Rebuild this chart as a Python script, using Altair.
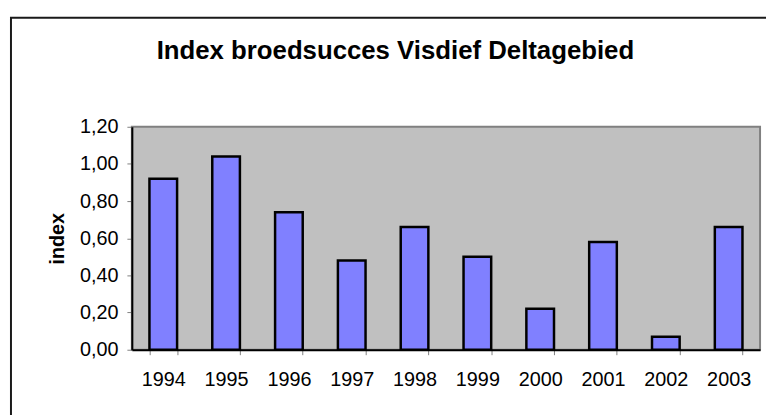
import altair as alt
import pandas as pd

years = ["1994", "1995", "1996", "1997", "1998", "1999", "2000", "2001", "2002", "2003"]
index_values = [0.92, 1.04, 0.74, 0.48, 0.66, 0.50, 0.22, 0.58, 0.07, 0.66]
y_ticks = [0.0, 0.2, 0.4, 0.6, 0.8, 1.0, 1.2]
title_text = "Index broedsucces Visdief Deltagebied"

df = pd.DataFrame({"jaar": years, "index": index_values})

FONT = "Liberation Sans"

bars = alt.Chart(df).mark_bar(
    color="#8080FF", stroke="#000000", strokeWidth=2.5
).encode(
    x=alt.X(
        "jaar:N",
        sort=years,
        title=None,
        scale=alt.Scale(paddingInner=0.56, paddingOuter=0.28),
        axis=alt.Axis(
            labelAngle=0,
            labelFontSize=20,
            labelFont=FONT,
            labelColor="#000000",
            labelPadding=15,
            tickBand="extent",
            tickColor="#808080",
            tickSize=5,
            domainColor="#000000",
            domainWidth=2,
            grid=False,
        ),
    ),
    y=alt.Y(
        "index:Q",
        title="index",
        scale=alt.Scale(domain=[0, 1.2], nice=False),
        axis=alt.Axis(
            values=y_ticks,
            labelExpr="replace(format(datum.value, '.2f'), '.', ',')",
            labelFontSize=20,
            labelFont=FONT,
            labelColor="#000000",
            labelPadding=9,
            tickColor="#808080",
            tickSize=5,
            domainColor="#000000",
            domainWidth=2,
            grid=False,
            titleFont=FONT,
            titleFontSize=20,
            titleFontWeight="bold",
            titleColor="#000000",
            titleX=-69,
            titleY=112.5,
            titleAlign="center",
            titleBaseline="alphabetic",
        ),
    ),
)

single = alt.Data(values=[{"t": title_text}])

frame = alt.Chart(single).mark_rect(
    fill=None, stroke="#1a1a1a", strokeWidth=2, clip=False
).encode(
    x=alt.value(-122),
    x2=alt.value(900),
    y=alt.value(-110),
    y2=alt.value(600),
)

title = alt.Chart(single).mark_text(
    font=FONT, fontSize=26, fontWeight="bold", color="#000000",
    align="center", baseline="alphabetic", clip=False
).encode(
    x=alt.value(266),
    y=alt.value(-68),
    text="t:N",
)

chart = alt.layer(frame, bars, title).properties(
    width=634,
    height=225,
    autosize=alt.AutoSizeParams(type="none"),
    padding={"left": 125, "top": 118, "right": 6, "bottom": 64},
    background="#FFFFFF",
).configure_view(
    fill="#C0C0C0", stroke="#808080", strokeWidth=2
)

chart.save("out.html", embed_options={"renderer": "svg", "actions": False})
